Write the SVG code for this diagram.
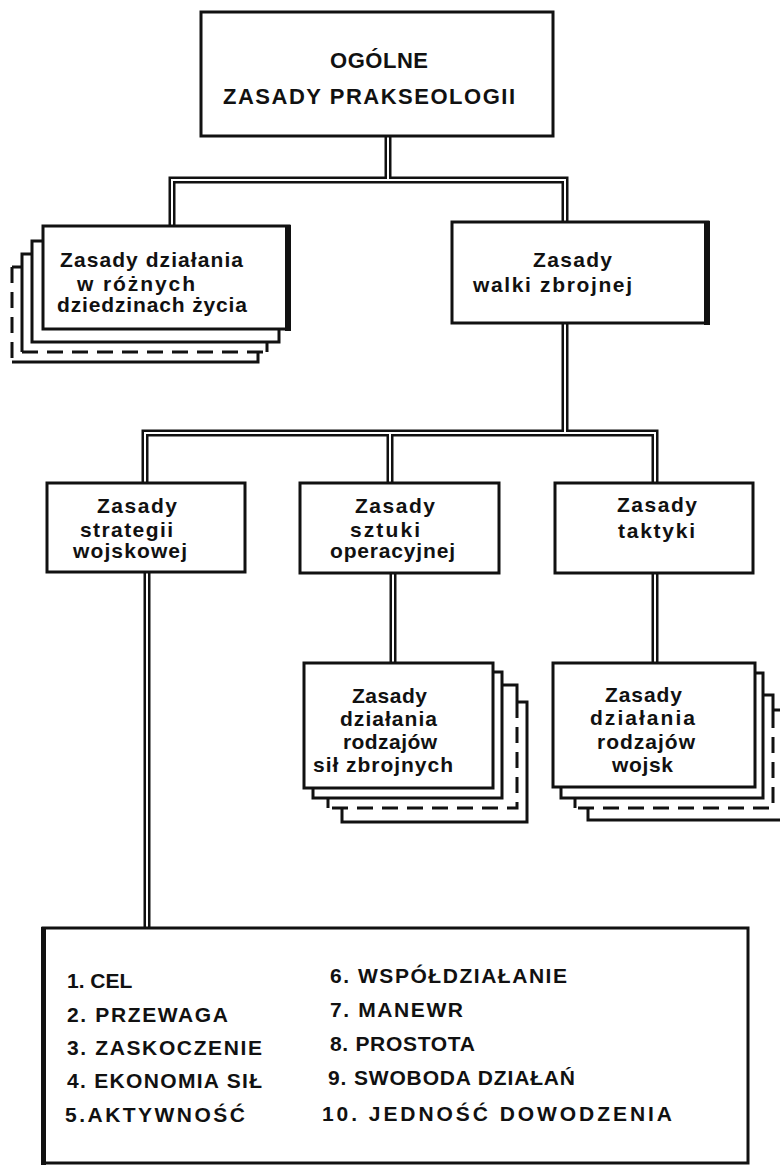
<svg xmlns="http://www.w3.org/2000/svg" width="780" height="1169" viewBox="0 0 780 1169">
<style>
.t{font-family:"Liberation Sans",Arial,sans-serif;font-weight:bold;fill:#111;}
.n{font-size:21px;}
.h{font-size:22px;}
.l{font-size:21px;}
.box{fill:#fff;stroke:#111;stroke-width:3;}
.pg{fill:#fff;stroke:none;}
.e{fill:none;stroke:#111;stroke-width:3;}
.d{fill:none;stroke:#111;stroke-width:3;stroke-dasharray:16 9;}
.co{fill:none;stroke:#111;stroke-width:7;}
.ci{fill:none;stroke:#fff;stroke-width:2;}
</style>
<defs>
<path id="p1" d="M172,228 V180 H565 V224"/>
<path id="p2" d="M388,134 V180"/>
<path id="p3" d="M565,321 V433"/>
<path id="p4" d="M145,485 V433 H655 V485"/>
<path id="p5" d="M390,433 V485"/>
<path id="p6" d="M147,570 V930"/>
<path id="p7" d="M393,571 V665"/>
<path id="p8" d="M655,571 V665"/>
</defs>
<rect width="780" height="1169" fill="#fff"/>
<g id="connectors">
<g class="co"><use href="#p1"/><use href="#p2"/><use href="#p3"/><use href="#p4"/><use href="#p5"/><use href="#p6"/><use href="#p7"/><use href="#p8"/></g>
<g class="ci"><use href="#p1"/><use href="#p2"/><use href="#p3"/><use href="#p4"/><use href="#p5"/><use href="#p6"/><use href="#p7"/><use href="#p8"/></g>
</g>
<g id="n-ogolne">
<rect class="box" x="201" y="12" width="352" height="124" stroke-width="4.5"/>
<text class="t h" x="330" y="68" textLength="98" lengthAdjust="spacing">OGÓLNE</text>
<text class="t h" x="223" y="104" textLength="292" lengthAdjust="spacing">ZASADY  PRAKSEOLOGII</text>
</g>
<g id="n-dziedziny">
<rect class="pg" x="12" y="267" width="246" height="95"/>
<path class="e" d="M12,267 H258 V362 H12"/>
<path class="d" d="M12,267 V362"/>
<rect class="pg" x="22" y="254" width="245" height="98"/>
<path class="e" d="M22,352 V254 H267 V352"/>
<path class="d" d="M22,352 H267"/>
<rect class="box" x="32" y="241" width="247" height="101"/>
<rect class="box" x="43" y="226" width="246" height="103"/>
<rect x="285" y="225" width="6" height="106" fill="#111"/>
<text class="t n" x="60" y="267" textLength="183" lengthAdjust="spacing">Zasady działania</text>
<text class="t n" x="77" y="291" textLength="118" lengthAdjust="spacing">w  różnych</text>
<text class="t n" x="57" y="312" textLength="190" lengthAdjust="spacing">dziedzinach życia</text>
</g>
<g id="n-walki">
<rect class="box" x="452" y="222" width="256" height="101"/>
<rect x="704" y="221" width="6" height="104" fill="#111"/>
<text class="t n" x="533" y="267" textLength="79" lengthAdjust="spacing">Zasady</text>
<text class="t n" x="473" y="292" textLength="159" lengthAdjust="spacing">walki  zbrojnej</text>
</g>
<g id="n-strategii">
<rect class="box" x="47" y="483" width="198" height="89"/>
<text class="t n" x="97" y="513" textLength="80" lengthAdjust="spacing">Zasady</text>
<text class="t n" x="80" y="537" textLength="93" lengthAdjust="spacing">strategii</text>
<text class="t n" x="73" y="558" textLength="114" lengthAdjust="spacing">wojskowej</text>
</g>
<g id="n-sztuki">
<rect class="box" x="300" y="483" width="199" height="90"/>
<text class="t n" x="355" y="513" textLength="80" lengthAdjust="spacing">Zasady</text>
<text class="t n" x="350" y="537" textLength="70" lengthAdjust="spacing">sztuki</text>
<text class="t n" x="330" y="558" textLength="125" lengthAdjust="spacing">operacyjnej</text>
</g>
<g id="n-taktyki">
<rect class="box" x="555" y="483" width="198" height="90"/>
<text class="t n" x="617" y="512" textLength="80" lengthAdjust="spacing">Zasady</text>
<text class="t n" x="618" y="538" textLength="77" lengthAdjust="spacing">taktyki</text>
</g>
<g id="n-sil">
<rect class="pg" x="342" y="702" width="185" height="120"/>
<path class="e" d="M342,702 H527 V822 H342 Z"/>
<rect class="pg" x="328" y="685" width="189" height="123"/>
<path class="e" d="M328,808 V685 H517 V702"/>
<path class="d" d="M517,702 V808 H328"/>
<rect class="box" x="313" y="672" width="189" height="126"/>
<rect class="box" x="304" y="663" width="189" height="125"/>
<text class="t n" x="352" y="703" textLength="75" lengthAdjust="spacing">Zasady</text>
<text class="t n" x="340" y="726" textLength="97" lengthAdjust="spacing">działania</text>
<text class="t n" x="343" y="749" textLength="94" lengthAdjust="spacing">rodzajów</text>
<text class="t n" x="313" y="772" textLength="140" lengthAdjust="spacing">sił  zbrojnych</text>
</g>
<g id="n-wojsk">
<rect class="pg" x="588" y="710" width="200" height="110"/>
<path class="e" d="M800,710 H588 V820 H800"/>
<rect class="pg" x="575" y="695" width="198" height="113"/>
<path class="e" d="M575,808 V695 H773 V712"/>
<path class="d" d="M773,712 V808 H575"/>
<rect class="box" x="561" y="673" width="202" height="125"/>
<rect class="box" x="553" y="663" width="202" height="124"/>
<text class="t n" x="605" y="702" textLength="77" lengthAdjust="spacing">Zasady</text>
<text class="t n" x="590" y="725" textLength="105" lengthAdjust="spacing">działania</text>
<text class="t n" x="597" y="749" textLength="98" lengthAdjust="spacing">rodzajów</text>
<text class="t n" x="612" y="772" textLength="61" lengthAdjust="spacing">wojsk</text>
</g>
<g id="n-lista">
<rect class="box" x="43" y="928" width="705" height="235"/>
<rect x="41" y="927" width="5" height="238" fill="#111"/>
<text class="t l" x="67" y="988">1. CEL</text>
<text class="t l" x="67" y="1022" textLength="161" lengthAdjust="spacing">2. PRZEWAGA</text>
<text class="t l" x="67" y="1055" textLength="195" lengthAdjust="spacing">3. ZASKOCZENIE</text>
<text class="t l" x="67" y="1088" textLength="195" lengthAdjust="spacing">4. EKONOMIA  SIŁ</text>
<text class="t l" x="65" y="1122" textLength="180" lengthAdjust="spacing">5.AKTYWNOŚĆ</text>
<text class="t l" x="330" y="983" textLength="237" lengthAdjust="spacing">6. WSPÓŁDZIAŁANIE</text>
<text class="t l" x="330" y="1017" textLength="133" lengthAdjust="spacing">7.  MANEWR</text>
<text class="t l" x="330" y="1051" textLength="145" lengthAdjust="spacing">8.  PROSTOTA</text>
<text class="t l" x="328" y="1085" textLength="247" lengthAdjust="spacing">9. SWOBODA   DZIAŁAŃ</text>
<text class="t l" x="322" y="1121" textLength="350" lengthAdjust="spacing">10. JEDNOŚĆ   DOWODZENIA</text>
</g>
</svg>
